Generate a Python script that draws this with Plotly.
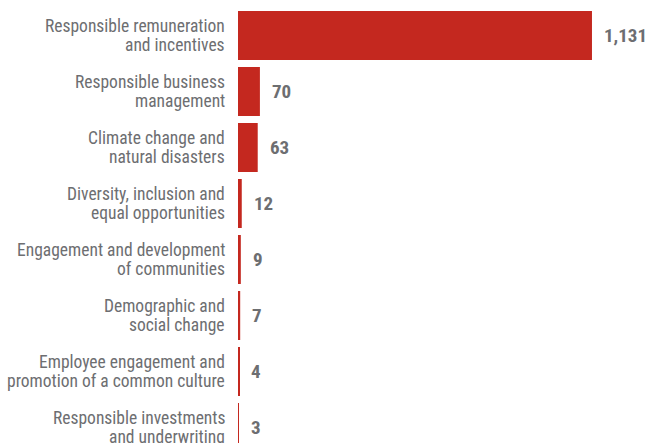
import plotly.graph_objects as go

categories = [
    "Responsible remuneration<br>and incentives",
    "Responsible business<br>management",
    "Climate change and<br>natural disasters",
    "Diversity, inclusion and<br>equal opportunities",
    "Engagement and development<br>of communities",
    "Demographic and<br>social change",
    "Employee engagement and<br>promotion of a common culture",
    "Responsible investments<br>and underwriting",
]
values = [1131, 70, 63, 12, 9, 7, 4, 3]
value_labels = ["1,131", "70", "63", "12", "9", "7", "4", "3"]

RED = "#c4281f"
GREY = "#6d6e71"
FONT = "Liberation Sans Narrow, Roboto Condensed, Arial Narrow, Liberation Sans, Arial, sans-serif"

fig = go.Figure()
fig.add_trace(go.Bar(
    x=values, y=categories, orientation="h",
    marker=dict(color=RED, line=dict(width=0)),
    width=0.875,
    hoverinfo="skip",
))

# value labels
for c, v, t in zip(categories, values, value_labels):
    fig.add_annotation(
        x=v, y=c, text="<b>%s</b>" % t, showarrow=False,
        xanchor="left", yanchor="middle", xshift=10,
        font=dict(family=FONT, size=19, color=GREY),
    )

# category labels (two lines each, tight leading)
for c in categories:
    lines = c.split("<br>")
    n = len(lines)
    for i, ln in enumerate(lines):
        fig.add_annotation(
            x=0, y=c, text=ln, showarrow=False,
            xanchor="right", yanchor="middle", xshift=-11,
            yshift=(n - 1) / 2 * 18.6 - i * 18.6,
            font=dict(family=FONT, size=17.5, color=GREY),
        )

fig.update_layout(
    width=648, height=443,
    margin=dict(l=238, r=0, t=0, b=0, autoexpand=False),
    paper_bgcolor="white", plot_bgcolor="white",
    showlegend=False,
    font=dict(family=FONT, size=14, color=GREY),
    xaxis=dict(range=[0, 1310], visible=False, fixedrange=True, automargin=False),
    yaxis=dict(
        range=[7.277, -0.634], showgrid=False, zeroline=False, showline=False,
        showticklabels=False, ticks="", automargin=False,
        fixedrange=True,
    ),
)

fig.write_html(
    "out.html",
    config={"displayModeBar": False},
    post_script="document.body.style.margin='0';document.body.style.overflow='hidden';",
)
